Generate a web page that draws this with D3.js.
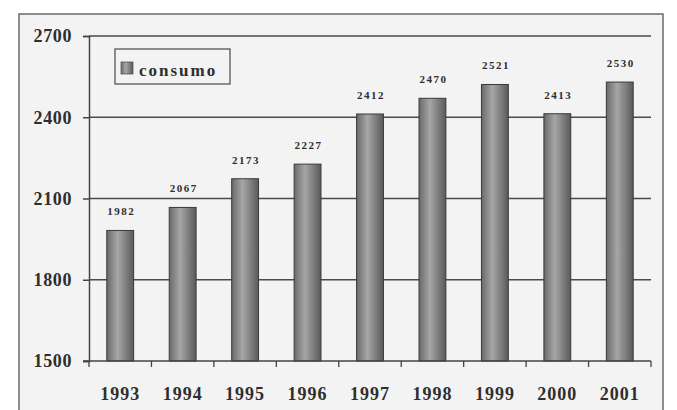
<!DOCTYPE html>
<html><head><meta charset="utf-8">
<script src="https://cdn.jsdelivr.net/npm/d3@7"></script>
<style>body{margin:0;background:#fff}svg{display:block}</style>
</head><body>
<script>
const years = ["1993","1994","1995","1996","1997","1998","1999","2000","2001"];
const consumo = [1982,2067,2173,2227,2412,2470,2521,2413,2530];
const yTicks = [1500,1800,2100,2400,2700];
const seriesName = "consumo";

(function(){
const W=677,H=410;
const svg=d3.select("body").append("svg").attr("width",W).attr("height",H);
const defs=svg.append("defs");
const g=defs.append("linearGradient").attr("id","bar").attr("x1","0").attr("x2","1").attr("y1","0").attr("y2","0");
g.append("stop").attr("offset","0").attr("stop-color","#6a6a6a");
g.append("stop").attr("offset","0.4").attr("stop-color","#a6a6a6");
g.append("stop").attr("offset","1").attr("stop-color","#5a5a5a");

svg.append("rect").attr("x",0).attr("y",0).attr("width",W).attr("height",H).attr("fill","#fff");
svg.append("rect").attr("x",19).attr("y",14).attr("width",644).attr("height",420)
  .attr("fill","#f3f3f3").attr("stroke","#555").attr("stroke-width",1.3);

const pl=89,pr=651,pt=36,pb=361;
const x=d3.scaleBand().domain(years).range([pl,pr]).paddingInner(0.57).paddingOuter(0.285);
const y=d3.scaleLinear().domain([1500,2700]).range([pb,pt]);

const font="Liberation Serif";
const ink="#2e2e2e";

// gridlines
svg.append("g").selectAll("line").data(yTicks.slice(1)).join("line")
  .attr("x1",pl).attr("x2",pr).attr("y1",d=>y(d)).attr("y2",d=>y(d))
  .attr("stroke","#4a4a4a").attr("stroke-width",1.5);

// y axis
const ya=svg.append("g").attr("transform",`translate(${pl},0)`)
  .call(d3.axisLeft(y).tickValues(yTicks).tickSize(6).tickPadding(11).tickFormat(d3.format("d")));
ya.select(".domain").attr("stroke","#444").attr("stroke-width",1.5);
ya.selectAll(".tick line").attr("stroke","#444").attr("stroke-width",1.5);
ya.selectAll("text").attr("font-family",font).attr("font-weight","bold")
  .attr("font-size",18).attr("fill",ink).attr("letter-spacing","0.6px");

// bars
svg.append("g").selectAll("rect").data(years).join("rect")
  .attr("x",d=>x(d)).attr("width",x.bandwidth())
  .attr("y",(d,i)=>y(consumo[i])).attr("height",(d,i)=>pb-y(consumo[i]))
  .attr("fill","url(#bar)").attr("stroke","#3a3a3a").attr("stroke-width",1);

// x axis
const xb=d3.scaleLinear().domain([0,years.length]).range([pl,pr]);
const xa=svg.append("g").attr("transform",`translate(0,${pb})`);
xa.append("line").attr("x1",pl-6).attr("x2",pr).attr("stroke","#444").attr("stroke-width",1.5);
xa.selectAll("line.t").data(d3.range(years.length+1)).join("line").attr("class","t")
  .attr("x1",d=>xb(d)).attr("x2",d=>xb(d)).attr("y1",0).attr("y2",6)
  .attr("stroke","#444").attr("stroke-width",1.3);
xa.selectAll("text").data(years).join("text")
  .attr("x",d=>x(d)+x.bandwidth()/2).attr("y",39).attr("text-anchor","middle")
  .attr("font-family",font).attr("font-weight","bold").attr("font-size",18)
  .attr("fill",ink).attr("letter-spacing","1px").text(d=>d);

// value labels
svg.append("g").selectAll("text").data(years).join("text")
  .attr("x",d=>x(d)+x.bandwidth()/2+1).attr("y",(d,i)=>y(consumo[i])-15)
  .attr("text-anchor","middle").attr("font-family",font).attr("font-weight","bold")
  .attr("font-size",11).attr("fill",ink).attr("letter-spacing","1.5px")
  .text((d,i)=>consumo[i]);

// legend
const lg=svg.append("g");
lg.append("rect").attr("x",115).attr("y",49).attr("width",115).attr("height",35)
  .attr("fill","#f3f3f3").attr("stroke","#555").attr("stroke-width",1.3);
lg.append("rect").attr("x",121).attr("y",62).attr("width",12).attr("height",12)
  .attr("fill","url(#bar)").attr("stroke","#555").attr("stroke-width",0.8);
lg.append("text").attr("x",139).attr("y",76).attr("font-family",font)
  .attr("font-weight","bold").attr("font-size",17).attr("fill",ink).attr("letter-spacing","2px")
  .text(seriesName);
})();
</script>
</body></html>
